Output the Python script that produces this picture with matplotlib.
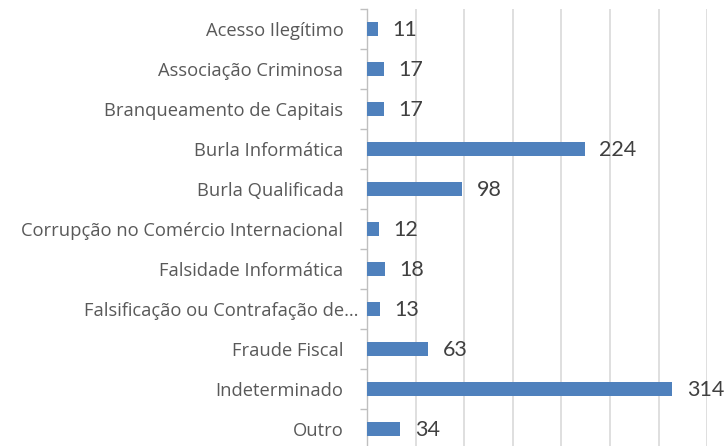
import matplotlib
matplotlib.use("Agg")
import matplotlib.pyplot as plt
import matplotlib.transforms as mtransforms
import numpy as np

categories = ["Acesso Ilegítimo", "Associação Criminosa", "Branqueamento de Capitais",
              "Burla Informática", "Burla Qualificada", "Corrupção no Comércio Internacional",
              "Falsidade Informática", "Falsificação ou Contrafação de…", "Fraude Fiscal",
              "Indeterminado", "Outro"]
values = [11, 17, 17, 224, 98, 12, 18, 13, 63, 314, 34]
xticks = [0, 50, 100, 150, 200, 250, 300, 350]

W, H = 728, 446
fig = plt.figure(figsize=(W/100, H/100), dpi=100)
left, right, top, bottom = 367, 707.3, 9, 449
ax = fig.add_axes([left/W, 1 - bottom/H, (right-left)/W, (bottom-top)/H])

y = np.arange(len(categories))
ax.barh(y, values, height=0.36, color="#4f81bd", zorder=3)
ax.set_xlim(0, 350)
ax.set_ylim(len(categories) - 0.5, -0.5)
ax.set_xticks(xticks)
ax.xaxis.grid(True, color="#d9d9d9", linewidth=1.2, zorder=0)
ax.tick_params(axis="x", length=0, labelbottom=False)
ax.set_yticks(y)
ax.set_yticklabels(categories, fontsize=13.2, color="#595959", family="Open Sans")
ax.tick_params(axis="y", which="major", length=0, pad=17)
ax.set_yticks(np.arange(-0.5, len(categories)), minor=True)
ax.tick_params(axis="y", which="minor", length=5, color="#bfbfbf", width=1)
for s in ["top", "right", "bottom"]:
    ax.spines[s].set_visible(False)
ax.spines["left"].set_color("#bfbfbf")
ax.spines["left"].set_linewidth(1)

# truncated label sits closer to the axis in the original
for lbl in ax.get_yticklabels():
    if lbl.get_text().endswith("…"):
        lbl.set_transform(lbl.get_transform() +
                          mtransforms.ScaledTranslation(15/100, 0, fig.dpi_scale_trans))

for yi, v in zip(y, values):
    ax.annotate(str(v), (v, yi), xytext=(10.5, -1), textcoords="offset points",
                va="center", ha="left", fontsize=15.5, color="#404040", family="Lato",
                annotation_clip=False)

fig.savefig("out.png", dpi=100)
